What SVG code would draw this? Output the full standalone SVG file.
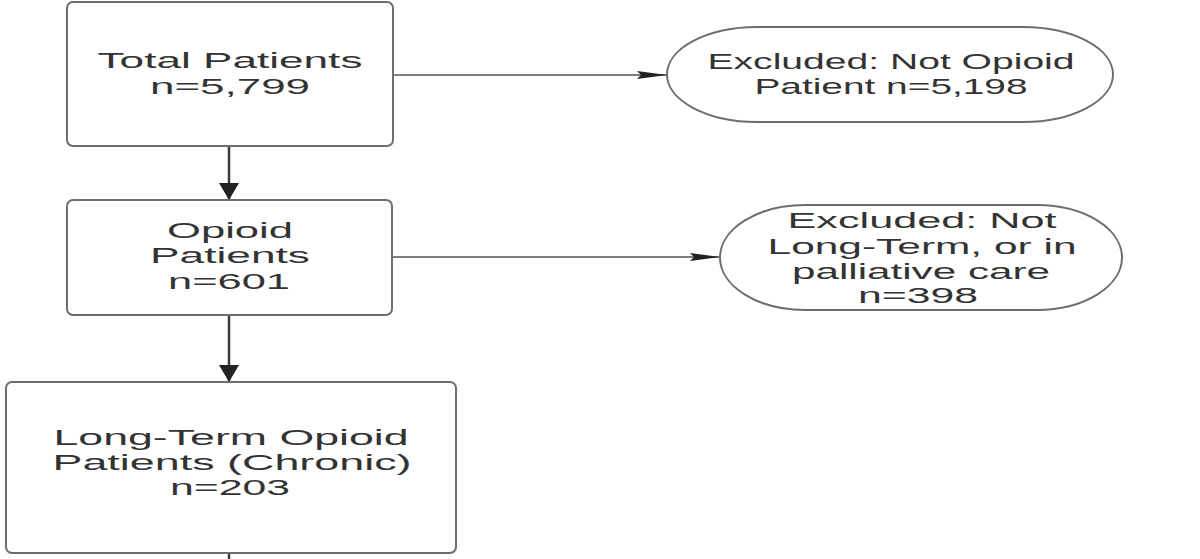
<svg xmlns="http://www.w3.org/2000/svg" width="1200" height="559" viewBox="0 0 1200 559">
<defs>
<style>
.box{fill:#fff;stroke:#6e6e6e;stroke-width:2}
.t{font-family:"Liberation Sans",Arial,sans-serif;font-size:22px;fill:#333;text-anchor:middle}
.h{stroke:#555;stroke-width:1.3;fill:none}
.v{stroke:#3a3a3a;stroke-width:2.5;fill:none}
</style>
<marker id="ah" markerUnits="userSpaceOnUse" markerWidth="30" markerHeight="10" refX="30" refY="5" orient="auto"><path d="M0,1 L30,5 L0,9 L4,5 Z" fill="#222"/></marker>
<marker id="av" markerUnits="userSpaceOnUse" markerWidth="17" markerHeight="22" refX="17" refY="11" orient="auto"><path d="M0,1 L17,11 L0,21 Z" fill="#222"/></marker>
</defs>
<rect width="1200" height="559" fill="#fff"/>
<g id="connectors">
<line class="h" x1="393" y1="75" x2="667" y2="75" marker-end="url(#ah)"/>
<line class="h" x1="392" y1="257" x2="720" y2="257" marker-end="url(#ah)"/>
<line class="v" x1="229" y1="146" x2="229" y2="200" marker-end="url(#av)"/>
<line class="v" x1="229" y1="315" x2="229" y2="382" marker-end="url(#av)"/>
<line class="v" x1="229" y1="553" x2="229" y2="559"/>
</g>
<g id="total">
<rect class="box" x="67" y="2" width="326" height="144" rx="6"/>
<g transform="translate(230 68) scale(1.85 1)"><text class="t" x="0" y="0" textLength="143.2" lengthAdjust="spacingAndGlyphs">Total Patients</text></g>
<g transform="translate(230 94) scale(1.85 1)"><text class="t" x="0" y="0" textLength="86.5" lengthAdjust="spacingAndGlyphs">n=5,799</text></g>
</g>
<g id="excluded1">
<rect class="box" x="667" y="27" width="446" height="95" rx="90" ry="47.5"/>
<g transform="translate(891 69) scale(1.85 1)"><text class="t" x="0" y="0" textLength="198.4" lengthAdjust="spacingAndGlyphs">Excluded: Not Opioid</text></g>
<g transform="translate(891 94) scale(1.85 1)"><text class="t" x="0" y="0" textLength="147.6" lengthAdjust="spacingAndGlyphs">Patient n=5,198</text></g>
</g>
<g id="opioid">
<rect class="box" x="67" y="200" width="325" height="115" rx="6"/>
<g transform="translate(230 238) scale(1.85 1)"><text class="t" x="0" y="0" textLength="68.1" lengthAdjust="spacingAndGlyphs">Opioid</text></g>
<g transform="translate(230 263) scale(1.85 1)"><text class="t" x="0" y="0" textLength="86.5" lengthAdjust="spacingAndGlyphs">Patients</text></g>
<g transform="translate(229 289) scale(1.85 1)"><text class="t" x="0" y="0" textLength="65.9" lengthAdjust="spacingAndGlyphs">n=601</text></g>
</g>
<g id="excluded2">
<rect class="box" x="720" y="205" width="402" height="105" rx="85" ry="52.5"/>
<g transform="translate(922 228) scale(1.85 1)"><text class="t" x="0" y="0" textLength="145.4" lengthAdjust="spacingAndGlyphs">Excluded: Not</text></g>
<g transform="translate(922 254) scale(1.85 1)"><text class="t" x="0" y="0" textLength="167" lengthAdjust="spacingAndGlyphs">Long-Term, or in</text></g>
<g transform="translate(921 279) scale(1.85 1)"><text class="t" x="0" y="0" textLength="139.5" lengthAdjust="spacingAndGlyphs">palliative care</text></g>
<g transform="translate(918 303) scale(1.85 1)"><text class="t" x="0" y="0" textLength="64.9" lengthAdjust="spacingAndGlyphs">n=398</text></g>
</g>
<g id="chronic">
<rect class="box" x="6" y="382" width="450" height="171" rx="6"/>
<g transform="translate(231 445) scale(1.85 1)"><text class="t" x="0" y="0" textLength="191.9" lengthAdjust="spacingAndGlyphs">Long-Term Opioid</text></g>
<g transform="translate(232 470) scale(1.85 1)"><text class="t" x="0" y="0" textLength="194.1" lengthAdjust="spacingAndGlyphs">Patients (Chronic)</text></g>
<g transform="translate(230 495) scale(1.85 1)"><text class="t" x="0" y="0" textLength="64.9" lengthAdjust="spacingAndGlyphs">n=203</text></g>
</g>
</svg>
